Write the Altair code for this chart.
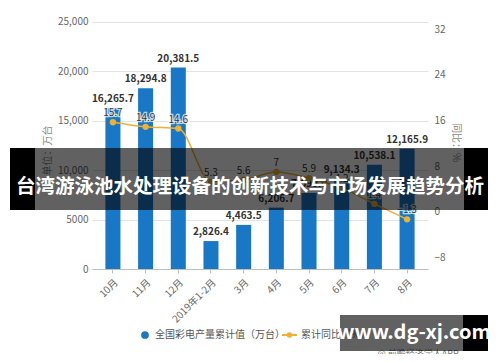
import altair as alt
import pandas as pd

FONT = "Noto Sans CJK SC"

months = ["10月", "11月", "12月", "2019年1-2月", "3月", "4月", "5月", "6月", "7月", "8月"]
output = [16265.7, 18294.8, 20381.5, 2826.4, 4463.5, 6206.7, 7690.0, 9134.3, 10538.1, 12165.9]
growth = [15.7, 14.9, 14.6, 5.3, 5.6, 7.0, 5.9, 4.2, 1.4, -1.3]
left_ticks = [0, 5000, 10000, 15000, 20000, 25000]
right_ticks = [-8, 0, 8, 16, 24, 32]

title_text = "台湾游泳池水处理设备的创新技术与市场发展趋势分析"
legend_bar = "全国彩电产量累计值（万台）"
legend_line = "累计同比（%）"
wm_text = "www.dg-xj.com"
source_text = "@ 前瞻经济学人APP"

df = pd.DataFrame({"month": months, "output": output, "growth": growth})
one = pd.DataFrame({"k": [0]})

BLUE = "#1878c6"
GOLD = "#f0b030"

x = alt.X("month:N", sort=months,
          scale=alt.Scale(paddingInner=0.54, paddingOuter=0.41),
          axis=alt.Axis(title=None, labelAngle=-45, labelFontSize=10, labelColor="#666",
                        domainColor="#bfbfbf", tickColor="#bfbfbf", tickSize=4, labelPadding=4,
                        labelFont=FONT))

base = alt.Chart(df)

yl = alt.Y("output:Q", scale=alt.Scale(domain=[0, 25000]),
           axis=alt.Axis(values=left_ticks, title="单位：万台", grid=True, gridColor="#e3e3e3",
                         ticks=False, domain=False, labelPadding=4, labelColor="#666",
                         labelFontSize=10, labelFont=FONT,
                         labelExpr="datum.value >= 10000 ? format(datum.value, ',') : format(datum.value, 'd')",
                         titleX=-45, titleY=138, titleAngle=-90, titleColor="#888",
                         titleFontSize=10, titleFontWeight="normal", titleFont=FONT,
                         titleAlign="center", titleBaseline="middle"))

bars = base.mark_bar(color=BLUE).encode(x=x, y=yl)
bar_text = base.mark_text(dy=-9, fontWeight="bold", fontSize=10, color="#333", font=FONT).encode(
    x=x, y="output:Q", text=alt.Text("output:Q", format=",.1f"))
left = alt.layer(bars, bar_text)

yr = alt.Y("growth:Q", scale=alt.Scale(domain=[-8, 32]),
           axis=alt.Axis(orient="right", values=right_ticks, title="同比：%", grid=False,
                         ticks=False, domain=False, labelPadding=6, labelColor="#666",
                         labelFontSize=10, labelFont=FONT,
                         titleX=27, titleY=130, titleAngle=90, titleColor="#888",
                         titleFontSize=10, titleFontWeight="normal", titleFont=FONT,
                         titleAlign="center", titleBaseline="middle"))

line = base.mark_line(color=GOLD, strokeWidth=1.5, interpolate="monotone").encode(x=x, y=yr)
points = base.mark_point(color=GOLD, filled=True, size=40, opacity=1).encode(x=x, y="growth:Q")
line_halo = base.mark_text(dy=-9, fontSize=10, color="white", stroke="white", strokeWidth=2.5,
                           strokeOpacity=0.7, font=FONT).encode(
    x=x, y="growth:Q", text=alt.Text("growth:Q"))
line_text = base.mark_text(dy=-9, fontSize=10, color="#333", font=FONT).encode(
    x=x, y="growth:Q", text=alt.Text("growth:Q"))

# legend (manual)
o = alt.Chart(one)
leg_dot = o.mark_point(filled=True, color=BLUE, size=60, opacity=1).encode(x=alt.value(53), y=alt.value(323))
leg_t1 = o.mark_text(align="left", baseline="middle", fontSize=10, color="#555", font=FONT).encode(
    x=alt.value(63), y=alt.value(323), text=alt.value(legend_bar))
leg_line = o.mark_rule(color=GOLD, strokeWidth=2).encode(x=alt.value(190), x2=alt.value(205), y=alt.value(323))
leg_dot2 = o.mark_point(filled=True, color=GOLD, size=30, opacity=1).encode(x=alt.value(197.5), y=alt.value(323))
leg_t2 = o.mark_text(align="left", baseline="middle", fontSize=10, color="#555", font=FONT).encode(
    x=alt.value(209), y=alt.value(323), text=alt.value(legend_line))
src = o.mark_text(align="center", baseline="middle", fontSize=9, color="#777", font=FONT).encode(
    x=alt.value(326), y=alt.value(342), text=alt.value(source_text))

# banner overlay
ban_dark = o.mark_rect(color="black", opacity=0.62).encode(
    x=alt.value(-57), x2=alt.value(372), y=alt.value(136), y2=alt.value(198))
ban_l = o.mark_rect(color="black").encode(x=alt.value(-82), x2=alt.value(-57), y=alt.value(136), y2=alt.value(198))
ban_r = o.mark_rect(color="black").encode(x=alt.value(372), x2=alt.value(399), y=alt.value(136), y2=alt.value(198))
ban_t = o.mark_text(align="center", baseline="middle", fontSize=19.5, fontWeight="bold", color="white",
                    font=FONT).encode(x=alt.value(158), y=alt.value(175), text=alt.value(title_text))

# watermark box
wm_dark = o.mark_rect(color="black", opacity=0.62).encode(
    x=alt.value(248), x2=alt.value(371), y=alt.value(303), y2=alt.value(339))
wm_blk = o.mark_rect(color="black").encode(x=alt.value(371), x2=alt.value(399), y=alt.value(303), y2=alt.value(339))
wm_t = o.mark_text(align="center", baseline="middle", fontSize=20, fontWeight="bold", color="white",
                   font=FONT).encode(x=alt.value(322), y=alt.value(321), text=alt.value(wm_text))

right = alt.layer(line, points, line_halo, line_text, leg_dot, leg_t1, leg_line, leg_dot2, leg_t2, src,
                  ban_dark, ban_l, ban_r, ban_t, wm_dark, wm_blk, wm_t)

chart = alt.layer(left, right).resolve_scale(y="independent").properties(
    width=336, height=257,
    autosize=alt.AutoSizeParams(type="none"),
    padding={"left": 84, "top": 4, "right": 60, "bottom": 85},
    background="white",
).configure_view(stroke=None)

chart.save("out.html", embed_options={"renderer": "svg", "actions": False})
